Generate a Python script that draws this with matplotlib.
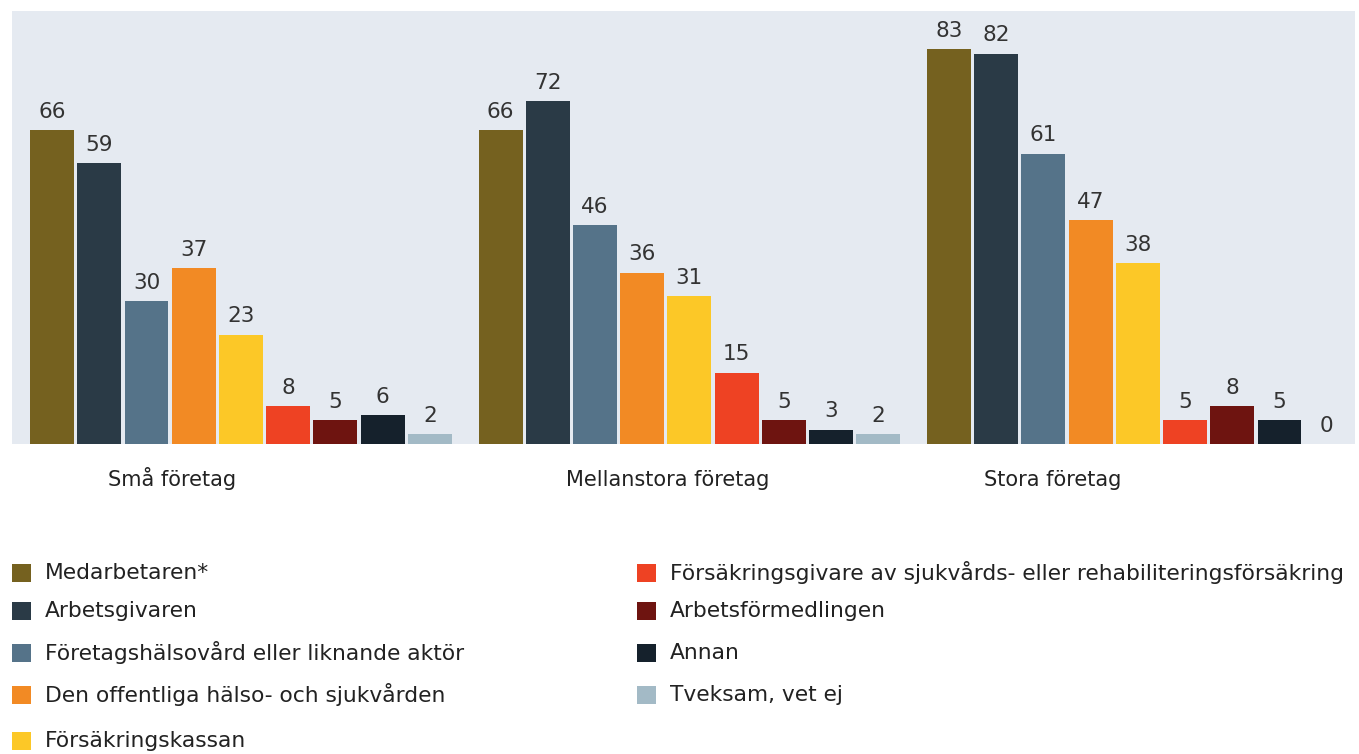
import matplotlib.pyplot as plt
from matplotlib.patches import Rectangle

plt.rcParams['font.family'] = ['DejaVu Sans']

groups = ['Små företag', 'Mellanstora företag', 'Stora företag']
series = ['Medarbetaren*', 'Arbetsgivaren', 'Företagshälsovård eller liknande aktör',
          'Den offentliga hälso- och sjukvården', 'Försäkringskassan',
          'Försäkringsgivare av sjukvårds- eller rehabiliteringsförsäkring',
          'Arbetsförmedlingen', 'Annan', 'Tveksam, vet ej']
sma = [66, 59, 30, 37, 23, 8, 5, 6, 2]
mellan = [66, 72, 46, 36, 31, 15, 5, 3, 2]
stora = [83, 82, 61, 47, 38, 5, 8, 5, 0]
colors = ['#75611f', '#2a3a46', '#557389', '#f28a24', '#fcc827',
          '#ee4223', '#6e1410', '#15212c', '#a3bac6']

values = [sma, mellan, stora]
group_step = 9.5
label_pos = [2.55, 3.55, 2.2]   # group label centre relative to first bar

fig = plt.figure(figsize=(13.59, 7.54), dpi=100)
ax = fig.add_axes([12 / 1359, 310 / 754, 1343 / 1359, 433 / 754])
ax.set_facecolor('#e5eaf1')

for g, vals in enumerate(values):
    x0 = g * group_step
    xs = [x0 + i for i in range(len(vals))]
    ax.bar(xs, vals, width=0.93, color=colors, linewidth=0)
    for x, v in zip(xs, vals):
        ax.annotate(str(v), (x, v), xytext=(0, 6), textcoords='offset points',
                    ha='center', va='bottom', fontsize=15.5, color='#333333')
    ax.text(x0 + label_pos[g], -8.8, groups[g], ha='center', va='baseline',
            fontsize=15, color='#222222')

ax.set_xlim(-0.85, 27.6)
ax.set_ylim(0, 91)
ax.set_xticks([])
ax.set_yticks([])
for s in ax.spines.values():
    s.set_visible(False)

# legend, two columns drawn by hand
rows_y = [573, 611, 653, 695, 741]
cols_x = [12, 637]
for i, (name, c) in enumerate(zip(series, colors)):
    col = 0 if i < 5 else 1
    row = i if i < 5 else i - 5
    x = cols_x[col]
    y = rows_y[row]
    fig.patches.append(Rectangle((x / 1359, 1 - (y + 9) / 754), 19 / 1359, 18 / 754,
                                 transform=fig.transFigure, color=c, linewidth=0))
    fig.text((x + 33) / 1359, 1 - y / 754, name, ha='left', va='center',
             fontsize=15.7, color='#222222')

fig.savefig('out.png', dpi=100, facecolor='white')
